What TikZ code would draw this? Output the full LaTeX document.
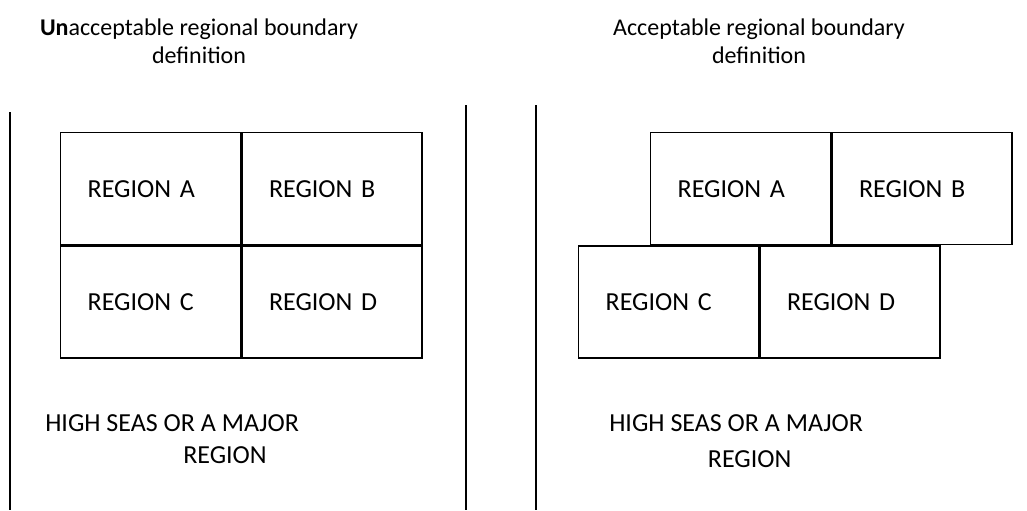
\documentclass[tikz,border=0pt]{standalone}
\usepackage{fontspec}
\setmainfont{Carlito}
\usetikzlibrary{positioning}
\tikzset{
  regbox/.style={draw,line width=1pt,minimum height=84pt,text width=94.5pt,inner xsep=20.25pt,inner ysep=0pt,align=left,font=\fontsize{19.5}{23}\selectfont},
  ttl/.style={align=center,inner sep=0pt,font=\fontsize{18}{21}\selectfont},
  seas/.style={align=left,inner sep=0pt,font=\fontsize{19.5}{24}\selectfont},
  divider/.style={line width=1.3pt}
}
\begin{document}
\begin{tikzpicture}[x=0.75pt,y=-0.75pt]
\useasboundingbox (0,0) rectangle (1027,510);
% panel lines
\draw[divider] (10,112) -- (10,510);
\draw[divider] (466,105) -- (466,510);
\draw[divider] (536,105) -- (536,510);

% unacceptable
\node[ttl] (ttlL) at (199,41) {\textbf{Un}acceptable regional boundary\\definition};
\node[regbox,anchor=north west] (la) at (60,132) {REGION A};
\node[regbox,right=0pt of la] (lb) {REGION B};
\node[regbox,below=0pt of la] (lc) {REGION C};
\node[regbox,right=0pt of lc] (ld) {REGION D};
\node[seas,anchor=west] (lsea) at (45,439) {HIGH SEAS OR A MAJOR\\\hspace*{103.5pt}REGION};

% acceptable
\node[ttl] (ttlR) at (759,41) {Acceptable regional boundary\\definition};
\node[regbox,anchor=north west] (ra) at (650,132) {REGION A};
\node[regbox,right=0pt of ra] (rb) {REGION B};
\node[regbox,anchor=north west,xshift=-54pt] (rc) at (ra.south west) {REGION C};
\node[regbox,right=0pt of rc] (rd) {REGION D};
\node[seas,anchor=west] (rsea) at (609,441) {HIGH SEAS OR A MAJOR\\[3pt]\hspace*{74pt}REGION};
\end{tikzpicture}
\end{document}
